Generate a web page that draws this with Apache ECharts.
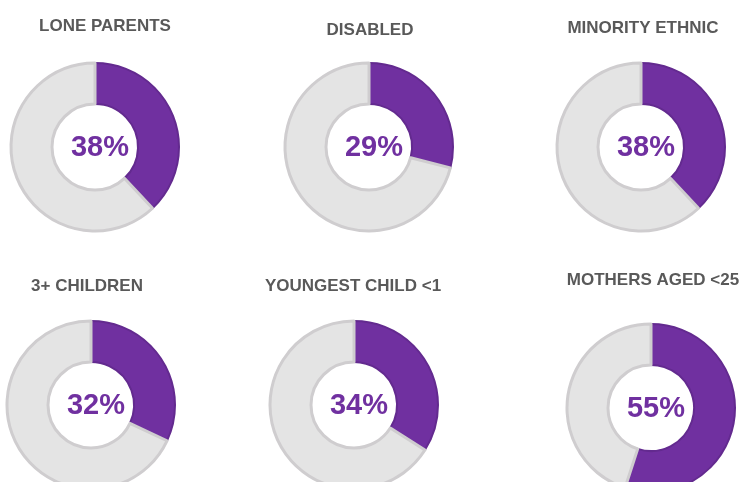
<!DOCTYPE html>
<html><head><meta charset="utf-8">
<script src="https://cdn.jsdelivr.net/npm/echarts@6/dist/echarts.min.js"></script>
<style>html,body{margin:0;padding:0;background:#fff}#c{width:741px;height:482px}</style>
</head><body><div id="c"></div>
<script>
const categories = ['LONE PARENTS','DISABLED','MINORITY ETHNIC','3+ CHILDREN','YOUNGEST CHILD <1','MOTHERS AGED <25'];
const values = [38, 29, 38, 32, 34, 55];

const centers = [[95,147],[369,147],[641,147],[91,405],[354,405],[651,408]];
const titlePos = [[100,13],[365,17],[638,15],[82,273],[348,273],[648,267]];
const purple = '#7030A0';
const chart = echarts.init(document.getElementById('c'), null, {renderer:'canvas'});
const series = categories.map((c,i)=>({
  type:'pie', center:centers[i], radius:[43,84], startAngle:90, clockwise:true,
  silent:true, animation:false, labelLine:{show:false},
  label:{show:false},
  data:[
    {value:values[i], name:c, itemStyle:{color:purple, borderColor:'#632a8f', borderWidth:2},
     label:{show:true, position:'center', offset:[5,1], formatter:values[i]+'%', color:purple, fontSize:29, fontWeight:'bold', fontFamily:'Liberation Sans, Arial, sans-serif'}},
    {value:100-values[i], name:'rest', itemStyle:{color:'#e4e4e4', borderColor:'#cfcdcf', borderWidth:3}}
  ]
}));
const titles = categories.map((c,i)=>({
  text:c, left:titlePos[i][0], top:titlePos[i][1], textAlign:'center',
  textStyle:{color:'#595959', fontSize:17, fontWeight:'bold', fontFamily:'Liberation Sans, Arial, sans-serif'}
}));
chart.setOption({animation:false, title:titles, series});
</script></body></html>
